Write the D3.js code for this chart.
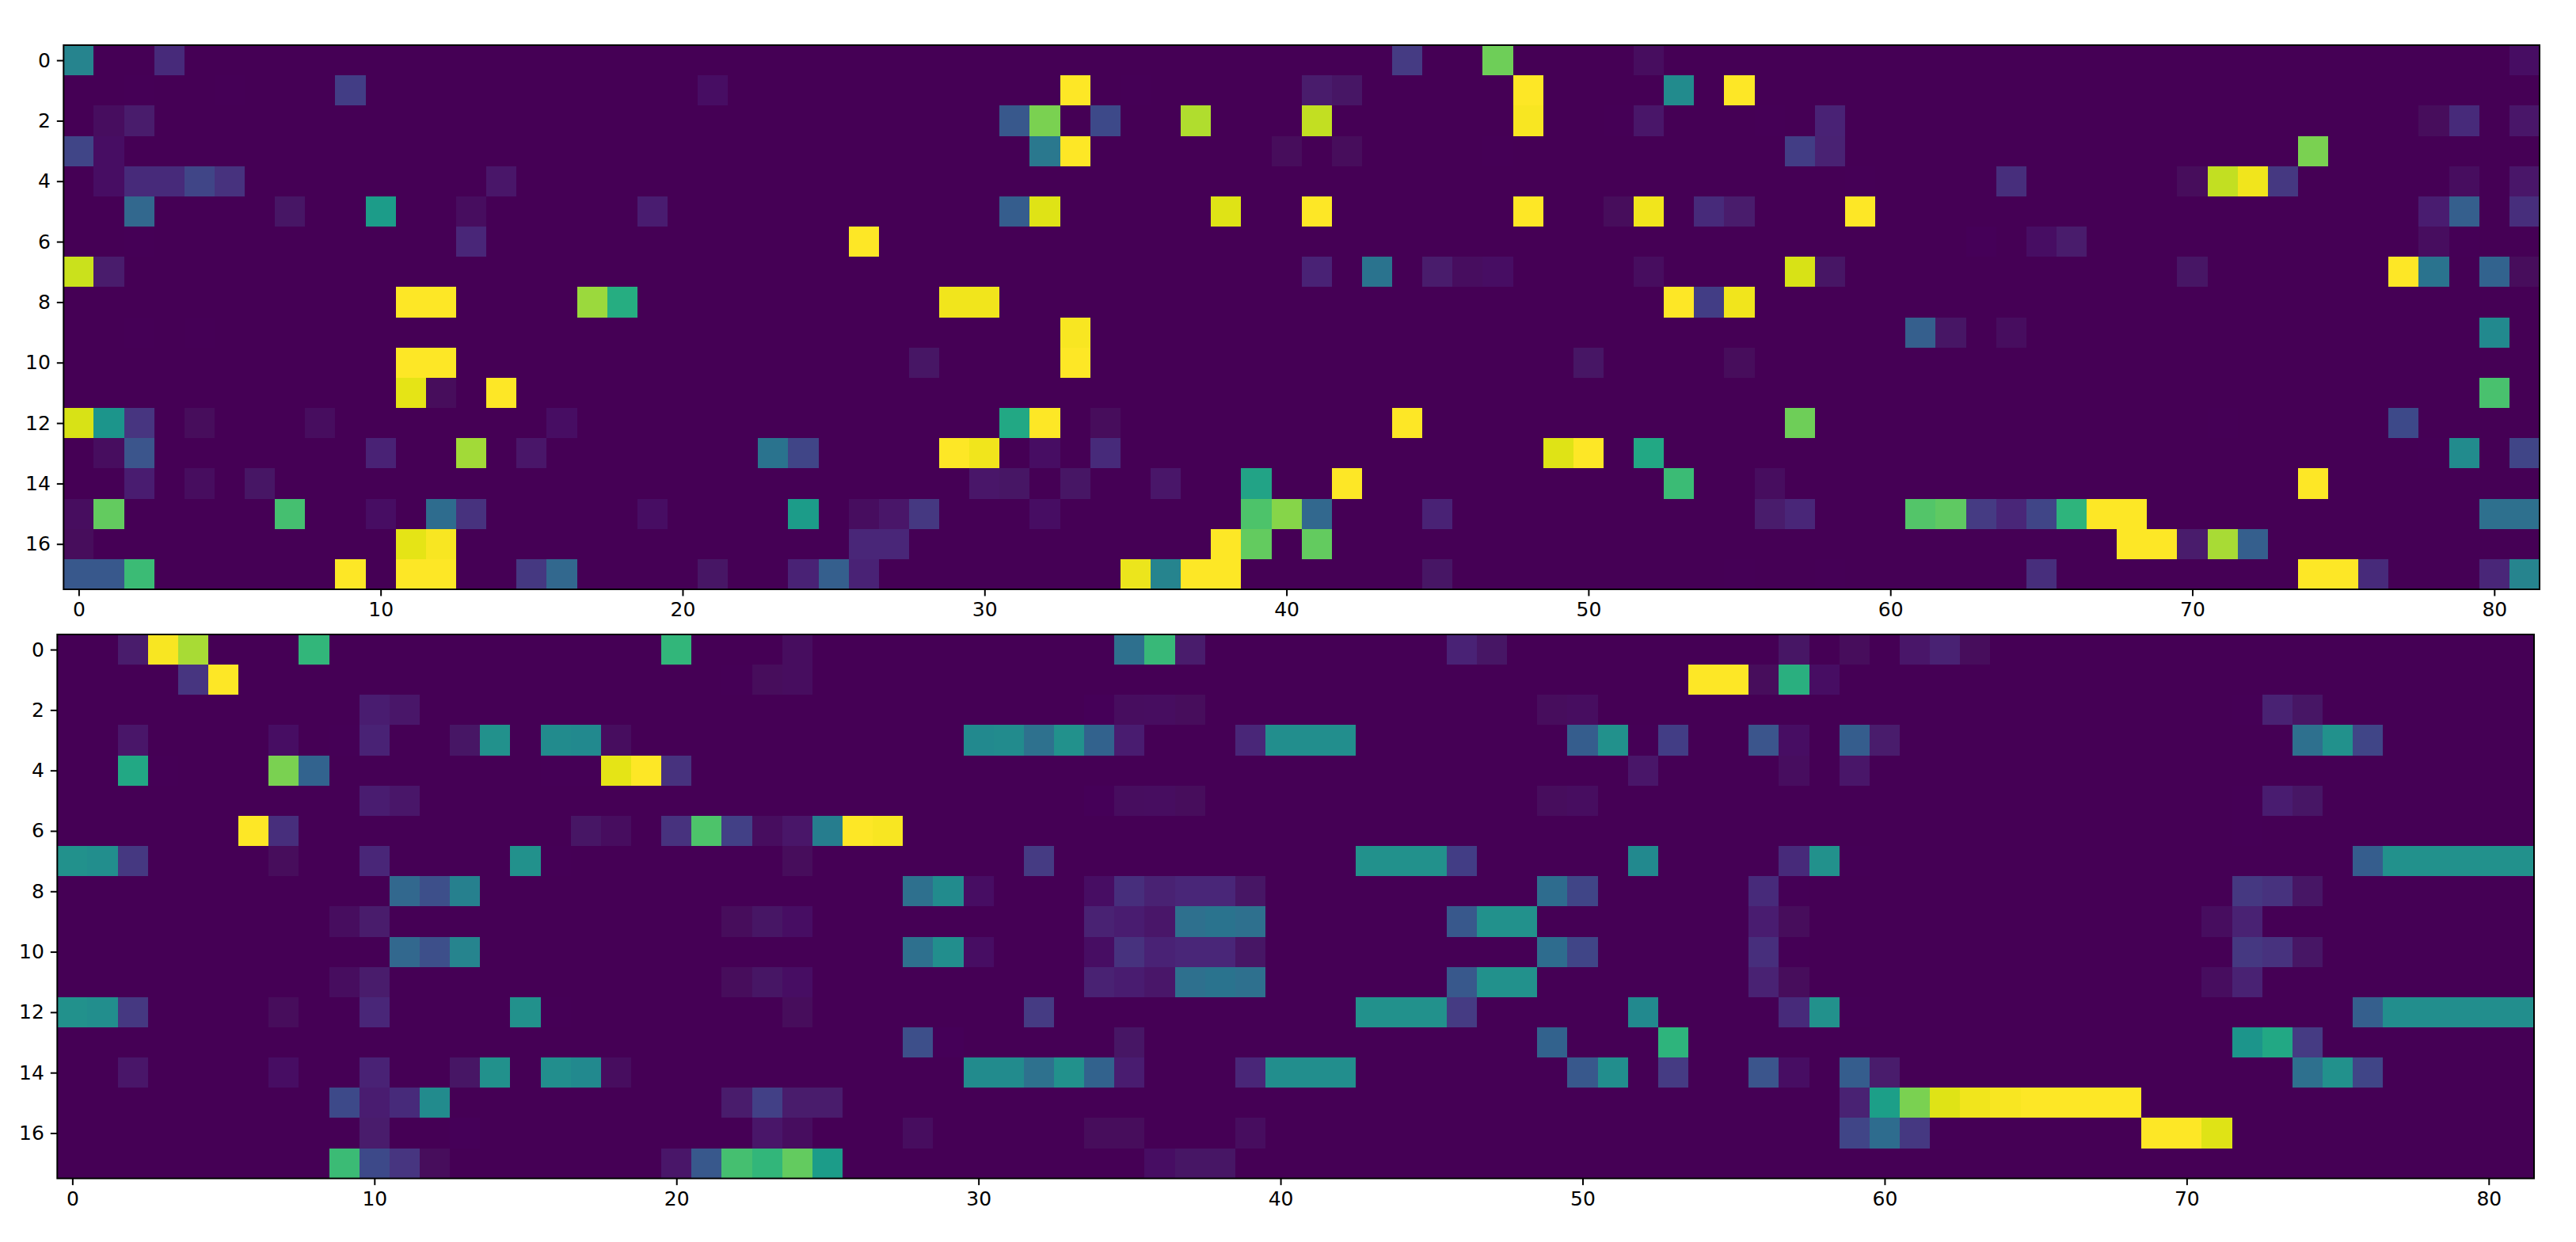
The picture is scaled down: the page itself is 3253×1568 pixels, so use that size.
<!DOCTYPE html>
<html>
<head>
<meta charset="utf-8">
<script src="https://d3js.org/d3.v7.min.js"></script>
<style>
  html, body { margin: 0; padding: 0; background: #fff; }
  svg { display: block; }
  text { font-family: "DejaVu Sans", sans-serif; }
</style>
</head>
<body>
<script>
// column/row labels
const columns = d3.range(82);
const rows = d3.range(18);
const xTicks = [0, 10, 20, 30, 40, 50, 60, 70, 80];
const yTicks = [0, 2, 4, 6, 8, 10, 12, 14, 16];

// upper matrix, one list per row of [column, value], anything not listed is 0
const topRows = [
  [[0,.45],[3,.12],[44,.17],[47,.78],[52,.03],[81,.04]],
  [[2,.005],[5,.01],[9,.18],[21,.04],[33,1],[35,.01],[41,.07],[42,.05],[48,1],[53,.48],[55,1]],
  [[1,.03],[2,.07],[31,.27],[32,.8],[34,.22],[37,.88],[41,.91],[48,.99],[51,.01],[52,.06],[56,.005],[58,.1],[78,.02],[79,.12],[81,.06]],
  [[0,.2],[1,.04],[32,.4],[33,1],[40,.02],[42,.02],[47,.005],[57,.18],[58,.09],[74,.8]],
  [[1,.04],[2,.12],[3,.12],[4,.2],[5,.14],[14,.06],[59,.005],[64,.13],[70,.02],[71,.91],[72,.98],[73,.16],[79,.03],[81,.06]],
  [[2,.33],[7,.05],[10,.55],[13,.03],[19,.08],[31,.29],[32,.95],[38,.95],[41,1],[48,1],[51,.02],[52,.98],[54,.12],[55,.07],[59,1],[78,.08],[79,.3],[81,.13]],
  [[2,.005],[13,.11],[26,1],[63,.015],[65,.04],[66,.07],[78,.03],[79,.01]],
  [[0,.92],[1,.07],[41,.1],[43,.38],[45,.07],[46,.03],[47,.04],[52,.03],[57,.94],[58,.05],[70,.05],[77,1],[78,.38],[80,.32],[81,.02]],
  [[11,1],[12,1],[17,.85],[18,.62],[29,.98],[30,.98],[39,.003],[53,1],[54,.18],[55,.98]],
  [[2,.005],[4,.01],[33,.99],[61,.3],[62,.05],[64,.03],[80,.47]],
  [[11,1],[12,1],[28,.05],[33,1],[50,.05],[55,.02]],
  [[11,.96],[12,.02],[14,1],[80,.71]],
  [[0,.94],[1,.52],[2,.15],[4,.02],[8,.03],[16,.04],[31,.6],[32,1],[34,.02],[44,1],[57,.78],[71,.005],[77,.22]],
  [[1,.03],[2,.26],[10,.1],[13,.86],[15,.06],[23,.38],[24,.2],[29,1],[30,.98],[32,.04],[34,.12],[49,.95],[50,1],[52,.6],[78,.01],[79,.48],[81,.2]],
  [[2,.08],[4,.03],[6,.05],[30,.06],[31,.05],[33,.05],[36,.06],[39,.58],[42,1],[53,.68],[56,.03],[74,1]],
  [[0,.03],[1,.76],[7,.7],[10,.04],[12,.35],[13,.14],[19,.04],[24,.55],[26,.03],[27,.06],[28,.16],[32,.04],[39,.72],[40,.82],[41,.33],[45,.1],[56,.07],[57,.11],[61,.73],[62,.75],[63,.17],[64,.11],[65,.2],[66,.65],[67,1],[68,1],[80,.36],[81,.36]],
  [[0,.02],[11,.96],[12,.99],[26,.11],[27,.11],[38,1],[39,.76],[41,.76],[68,1],[69,1],[70,.07],[71,.87],[72,.3]],
  [[0,.27],[1,.27],[2,.68],[9,1],[11,1],[12,1],[15,.16],[16,.33],[21,.05],[24,.1],[25,.3],[26,.1],[35,.97],[36,.45],[37,1],[38,1],[45,.05],[55,.005],[58,.005],[65,.13],[74,1],[75,1],[76,.12],[80,.11],[81,.45]]
];

// lower matrix, same layout
const bottomRows = [
  [[2,.07],[3,.99],[4,.87],[8,.66],[20,.66],[24,.03],[35,.36],[36,.67],[37,.07],[46,.1],[47,.05],[57,.05],[59,.02],[61,.06],[62,.09],[63,.02]],
  [[4,.15],[5,1],[22,.005],[23,.02],[24,.03],[54,1],[55,1],[56,.02],[57,.63],[58,.04]],
  [[10,.08],[11,.06],[34,.015],[35,.03],[36,.035],[37,.02],[49,.025],[50,.035],[72,.01],[73,.09],[74,.05]],
  [[2,.06],[7,.04],[9,.005],[10,.1],[13,.05],[14,.5],[16,.48],[17,.47],[18,.03],[30,.47],[31,.48],[32,.37],[33,.5],[34,.31],[35,.08],[39,.11],[40,.49],[41,.49],[42,.49],[50,.29],[51,.5],[52,.005],[53,.18],[56,.26],[57,.04],[59,.29],[60,.07],[74,.36],[75,.5],[76,.2]],
  [[2,.6],[3,.005],[7,.8],[8,.32],[16,.005],[17,.005],[18,.96],[19,1],[20,.14],[52,.06],[57,.03],[59,.06]],
  [[10,.08],[11,.06],[34,.015],[35,.03],[36,.035],[37,.02],[49,.025],[50,.035],[72,.005],[73,.08],[74,.05]],
  [[6,1],[7,.13],[17,.05],[18,.03],[20,.14],[21,.72],[22,.19],[23,.03],[24,.06],[25,.42],[26,1],[27,.99],[72,.005]],
  [[0,.5],[1,.49],[2,.16],[7,.02],[10,.11],[15,.5],[16,.01],[24,.02],[32,.17],[43,.5],[44,.5],[45,.5],[46,.18],[52,.47],[57,.12],[58,.5],[59,.01],[76,.29],[77,.5],[78,.5],[79,.5],[80,.5],[81,.5]],
  [[11,.33],[12,.24],[13,.43],[28,.36],[29,.48],[30,.04],[34,.04],[35,.13],[36,.09],[37,.11],[38,.11],[39,.05],[49,.35],[50,.2],[56,.12],[57,.005],[58,.003],[72,.16],[73,.14],[74,.05]],
  [[9,.03],[10,.07],[22,.02],[23,.05],[24,.04],[34,.09],[35,.08],[36,.06],[37,.36],[38,.38],[39,.36],[46,.27],[47,.5],[48,.5],[56,.08],[57,.02],[71,.03],[72,.09]],
  [[11,.33],[12,.24],[13,.45],[28,.36],[29,.49],[30,.04],[34,.04],[35,.14],[36,.1],[37,.11],[38,.11],[39,.05],[49,.35],[50,.2],[56,.13],[57,.005],[72,.16],[73,.14],[74,.05]],
  [[9,.03],[10,.07],[22,.02],[23,.05],[24,.04],[34,.09],[35,.08],[36,.06],[37,.36],[38,.38],[39,.36],[46,.27],[47,.5],[48,.5],[56,.09],[57,.02],[71,.03],[72,.09]],
  [[0,.5],[1,.49],[2,.16],[7,.02],[10,.11],[15,.5],[16,.005],[24,.02],[32,.17],[43,.5],[44,.5],[45,.5],[46,.17],[52,.47],[57,.12],[58,.5],[59,.01],[76,.3],[77,.49],[78,.49],[79,.49],[80,.49],[81,.49]],
  [[8,.003],[28,.24],[29,.015],[35,.05],[49,.31],[53,.65],[59,.003],[72,.52],[73,.6],[74,.17]],
  [[2,.06],[7,.04],[10,.1],[13,.05],[14,.5],[16,.49],[17,.47],[18,.03],[30,.48],[31,.48],[32,.37],[33,.5],[34,.31],[35,.08],[39,.11],[40,.49],[41,.49],[42,.49],[50,.27],[51,.49],[53,.17],[56,.26],[57,.04],[59,.29],[60,.07],[74,.36],[75,.5],[76,.2]],
  [[9,.22],[10,.08],[11,.12],[12,.48],[22,.07],[23,.19],[24,.07],[25,.07],[28,.003],[59,.09],[60,.56],[61,.8],[62,.95],[63,.98],[64,.99],[65,1],[66,1],[67,1],[68,1]],
  [[10,.07],[13,.015],[23,.06],[24,.03],[28,.03],[34,.02],[35,.02],[39,.03],[59,.2],[60,.35],[61,.16],[62,.01],[69,1],[70,1],[71,.95]],
  [[9,.68],[10,.22],[11,.15],[12,.02],[20,.06],[21,.27],[22,.7],[23,.66],[24,.76],[25,.55],[36,.04],[37,.05],[38,.05],[59,.002]]
];

const width = 3253, height = 1568;
const color = d3.scaleSequential(d3.interpolateViridis).domain([0, 1]);

const svg = d3.select("body").append("svg")
    .attr("width", width)
    .attr("height", height);

// the original image has slightly soft cell edges
svg.append("defs").append("filter")
    .attr("id", "soft")
    .attr("x", 0).attr("y", 0).attr("width", 1).attr("height", 1)
    .append("feGaussianBlur")
    .attr("stdDeviation", 0.6);

// one heatmap panel, same as imshow with a stretched aspect
function drawPanel(data, box) {
    const x = d3.scaleLinear().domain([-0.5, columns.length - 0.5]).range([box.left, box.right]);
    const y = d3.scaleLinear().domain([-0.5, rows.length - 0.5]).range([box.top, box.bottom]);
    const g = svg.append("g");
    const image = g.append("g").attr("filter", "url(#soft)");

    image.append("rect")
        .attr("x", box.left)
        .attr("y", box.top)
        .attr("width", box.right - box.left)
        .attr("height", box.bottom - box.top)
        .attr("fill", color(0));

    const cells = data.flatMap((row, r) => row.map(([c, v]) => ({ r, c, v })));
    image.selectAll("rect.cell")
        .data(cells)
        .enter().append("rect")
        .attr("class", "cell")
        .attr("x", d => x(d.c - 0.5))
        .attr("y", d => y(d.r - 0.5))
        .attr("width", d => x(d.c + 0.5) - x(d.c - 0.5))
        .attr("height", d => y(d.r + 0.5) - y(d.r - 0.5))
        .attr("fill", d => color(d.v))
        .attr("shape-rendering", "crispEdges");

    const xAxis = g.append("g")
        .attr("transform", `translate(0,${box.bottom})`)
        .call(d3.axisBottom(x).tickValues(xTicks).tickFormat(d3.format("d")).tickSize(8.5).tickPadding(8).tickSizeOuter(0));
    const yAxis = g.append("g")
        .attr("transform", `translate(${box.left},0)`)
        .call(d3.axisLeft(y).tickValues(yTicks).tickFormat(d3.format("d")).tickSize(8.5).tickPadding(8).tickSizeOuter(0));

    [xAxis, yAxis].forEach(a => {
        a.select(".domain").remove();
        a.selectAll("line").attr("stroke", "#000").attr("stroke-width", 2);
        a.selectAll("text").attr("fill", "#000").attr("font-size", 25).style("font-family", '"DejaVu Sans"');
    });

    g.append("rect")
        .attr("x", box.left)
        .attr("y", box.top)
        .attr("width", box.right - box.left)
        .attr("height", box.bottom - box.top)
        .attr("fill", "none")
        .attr("stroke", "#000")
        .attr("stroke-width", 2);
}

drawPanel(topRows, { left: 80.3, right: 3207, top: 57, bottom: 744 });
drawPanel(bottomRows, { left: 72.3, right: 3200, top: 801, bottom: 1487.7 });
</script>
</body>
</html>
